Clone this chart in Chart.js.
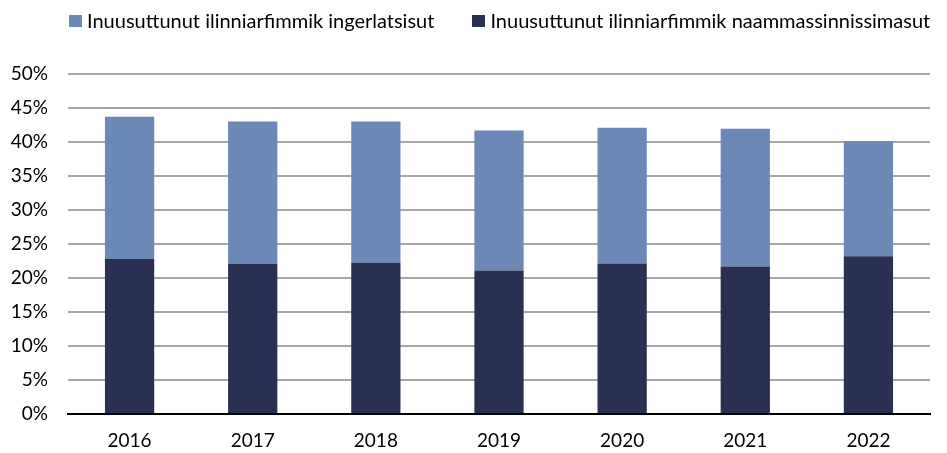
<!DOCTYPE html>
<html>
<head>
<meta charset="utf-8">
<script src="https://cdn.jsdelivr.net/npm/chart.js@4"></script>
<style>
  html, body { margin: 0; padding: 0; background: #fff; }
  #wrap { position: relative; width: 947px; height: 453px; }
  #legend {
    position: absolute; left: 69px; top: 8px;
    display: flex; align-items: center; gap: 38px;
    font-family: Lato, "Open Sans", sans-serif; font-size: 20px; color: #000;
    line-height: 24px; white-space: nowrap;
  }
  #legend .item { display: flex; align-items: center; }
  #legend .box { width: 13px; height: 12px; margin-right: 5px; margin-top: 1px; }
</style>
</head>
<body>
<div id="wrap">
  <canvas id="chart" width="947" height="453"></canvas>
  <div id="legend"></div>
</div>
<script>
// data
const years = ['2016', '2017', '2018', '2019', '2020', '2021', '2022'];
const naammassinnissimasut = [22.8, 22.1, 22.25, 21.1, 22.15, 21.7, 23.2];
const ingerlatsisut = [20.9, 20.9, 20.75, 20.6, 19.95, 20.25, 16.9];
const yTicks = [0, 5, 10, 15, 20, 25, 30, 35, 40, 45, 50];

const fontFamily = 'Lato, "Open Sans", sans-serif';

const ctx = document.getElementById('chart').getContext('2d');
const chart = new Chart(ctx, {
    type: 'bar',
    data: {
        labels: years,
        datasets: [
            { label: 'Inuusuttunut ilinniarfimmik naammassinnissimasut', data: naammassinnissimasut, backgroundColor: '#293052', stack: 's' },
            { label: 'Inuusuttunut ilinniarfimmik ingerlatsisut', data: ingerlatsisut, backgroundColor: '#6b88b6', stack: 's' }
        ]
    },
    options: {
        responsive: false,
        animation: false,
        layout: { padding: { left: 0, right: 17, top: 74, bottom: 0 } },
        datasets: { bar: { barPercentage: 0.4, categoryPercentage: 1.0 } },
        scales: {
            x: {
                stacked: true,
                grid: { display: false, drawTicks: false },
                border: { color: '#000', width: 2 },
                ticks: { color: '#000', font: { family: fontFamily, size: 19 }, padding: 15 },
                afterFit(scale) { scale.height = 39; }
            },
            y: {
                stacked: true,
                min: 0,
                max: 50,
                afterBuildTicks(scale) { scale.ticks = yTicks.map(v => ({ value: v })); },
                grid: { color: '#a6a6a6', lineWidth: 2, drawTicks: false },
                border: { display: false },
                ticks: {
                    color: '#000',
                    font: { family: fontFamily, size: 19 },
                    padding: 20,
                    callback: v => v + '%'
                },
                afterFit(scale) { scale.width = 68; }
            }
        },
        plugins: {
            legend: { display: false },
            tooltip: { enabled: false }
        }
    }
});

// HTML legend, light series first like the original
const legendEl = document.getElementById('legend');
chart.data.datasets.slice().reverse().forEach(ds => {
    const item = document.createElement('div');
    item.className = 'item';
    const box = document.createElement('span');
    box.className = 'box';
    box.style.background = ds.backgroundColor;
    const txt = document.createElement('span');
    txt.textContent = ds.label;
    item.appendChild(box);
    item.appendChild(txt);
    legendEl.appendChild(item);
});
</script>
</body>
</html>
